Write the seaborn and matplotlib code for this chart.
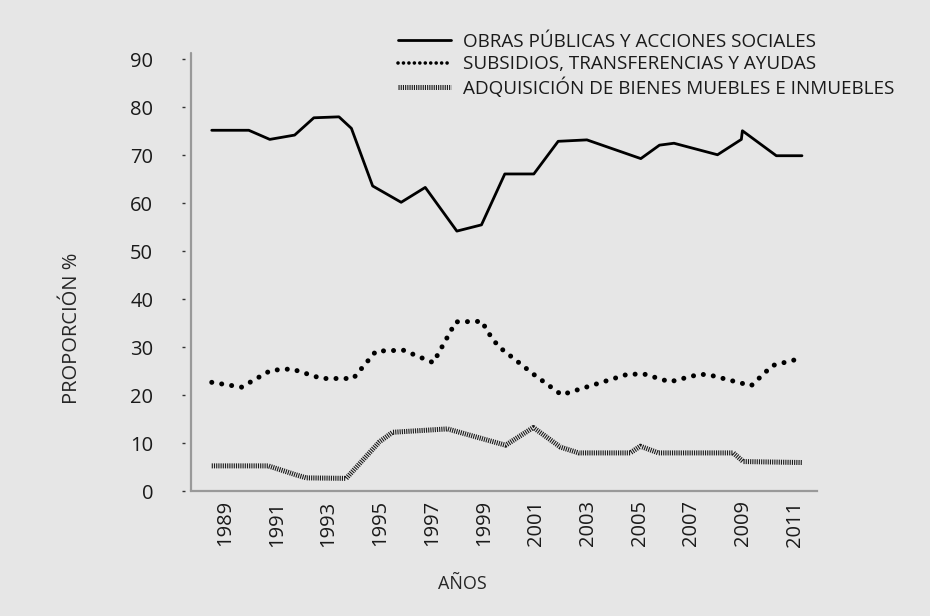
import matplotlib
matplotlib.use('Agg')
import matplotlib.pyplot as plt
import seaborn as sns

# valores (x en años, y en %)
obras_x = [1988.49, 1989.92, 1990.73, 1991.69, 1992.43, 1993.40, 1993.88, 1994.70,
           1995.80, 1996.73, 1997.95, 1998.90, 1999.80, 2000.92, 2001.86, 2002.97,
           2005.05, 2005.77, 2006.33, 2008.01, 2008.93, 2008.97, 2010.28, 2011.27]
obras_y = [75.2, 75.2, 73.3, 74.2, 77.8, 78.0, 75.6, 63.6,
           60.2, 63.3, 54.2, 55.5, 66.1, 66.1, 72.9, 73.2,
           69.3, 72.1, 72.5, 70.1, 73.3, 75.1, 69.9, 69.9]

subsidios_x = [1988.49, 1989.64, 1990.77, 1991.57, 1992.73, 1993.95, 1994.83, 1995.88,
               1997.04, 1997.91, 1998.93, 1999.10, 1999.55, 2000.93, 2001.99, 2004.55,
               2005.19, 2006.17, 2007.33, 2007.73, 2009.31, 2010.13, 2011.30]
subsidios_y = [22.7, 21.7, 25.2, 25.5, 23.5, 23.5, 29.2, 29.4,
               26.8, 35.3, 35.4, 33.5, 30.2, 24.3, 20.1, 24.4,
               24.4, 22.8, 24.4, 24.2, 22.0, 26.2, 27.8]

bienes_x = [1988.49, 1990.67, 1991.76, 1992.14, 1993.68, 1994.96, 1995.47, 1997.59,
            1999.83, 2000.90, 2001.95, 2002.65, 2004.64, 2005.03, 2005.73, 2008.62,
            2009.00, 2011.27]
bienes_y = [5.3, 5.3, 3.4, 2.8, 2.7, 10.3, 12.3, 13.0,
            9.6, 13.3, 9.2, 8.0, 8.0, 9.4, 8.0, 8.0,
            6.2, 6.0]

etiquetas = ['OBRAS PÚBLICAS Y ACCIONES SOCIALES',
             'SUBSIDIOS, TRANSFERENCIAS Y AYUDAS',
             'ADQUISICIÓN DE BIENES MUEBLES E INMUEBLES']
anios_ticks = list(range(1989, 2012, 2))

BG = '#e6e6e6'
sns.set_theme(style='white')
plt.rcParams['font.family'] = ['Open Sans', 'DejaVu Sans']
plt.rcParams['text.color'] = '#1a1a1a'

fig = plt.figure(figsize=(9.3, 6.16), dpi=100, facecolor=BG)
ax = fig.add_axes([0.2054, 0.2024, 0.6731, 0.7116])
ax.set_facecolor(BG)

sns.lineplot(x=obras_x, y=obras_y, ax=ax, color='black', linewidth=2.0,
             estimator=None, sort=False, label=etiquetas[0])
sns.lineplot(x=subsidios_x, y=subsidios_y, ax=ax, color='black', linewidth=3.6,
             linestyle=(0, (0.01, 2.0)), dash_capstyle='round',
             estimator=None, sort=False, label=etiquetas[1])
sns.lineplot(x=bienes_x, y=bienes_y, ax=ax, color='#1a1a1a', linewidth=3.6,
             linestyle=(0, (0.22, 0.22)), dash_capstyle='butt',
             estimator=None, sort=False, label=etiquetas[2])

ax.set_xlim(1987.69, 2011.85)
ax.set_ylim(0, 91.3)
ax.set_yticks(range(0, 100, 10))
ax.set_xticks(anios_ticks)
ax.set_xticklabels([str(a) for a in anios_ticks], rotation=90)

for s in ['top', 'right']:
    ax.spines[s].set_visible(False)
ax.spines['bottom'].set_color('#999999')
ax.spines['bottom'].set_linewidth(1.6)
# ticks del eje y separados de la línea del eje
ax.spines['left'].set_position(('outward', 4))
ax.spines['left'].set_visible(False)
ax.axvline(1987.69, color='#999999', lw=1.6, clip_on=False)

ax.tick_params(axis='y', direction='out', length=2.2, width=1.0, color='#333333',
               pad=21, labelsize=14.5, labelcolor='#1a1a1a', left=True)
ax.tick_params(axis='x', length=0, pad=6.5, labelsize=14.5, labelcolor='#1a1a1a')

ax.set_ylabel('PROPORCIÓN %', fontsize=14.5)
ax.yaxis.set_label_coords(-0.174, 0.372)
ax.set_xlabel('AÑOS', fontsize=13)
ax.xaxis.set_label_coords(0.433, -0.191)

leg = ax.legend(loc='upper left', bbox_to_anchor=(398 / 930, 1 - 33 / 616),
                bbox_transform=fig.transFigure, frameon=False, fontsize=13.6,
                handlelength=2.8, handletextpad=0.66, labelspacing=0.22,
                borderaxespad=0, borderpad=0)
leg.get_lines()[1].set_linewidth(2.6)
leg.get_lines()[1].set_linestyle((0, (0.01, 1.5)))

plt.savefig('out.png', dpi=100, facecolor=BG)
